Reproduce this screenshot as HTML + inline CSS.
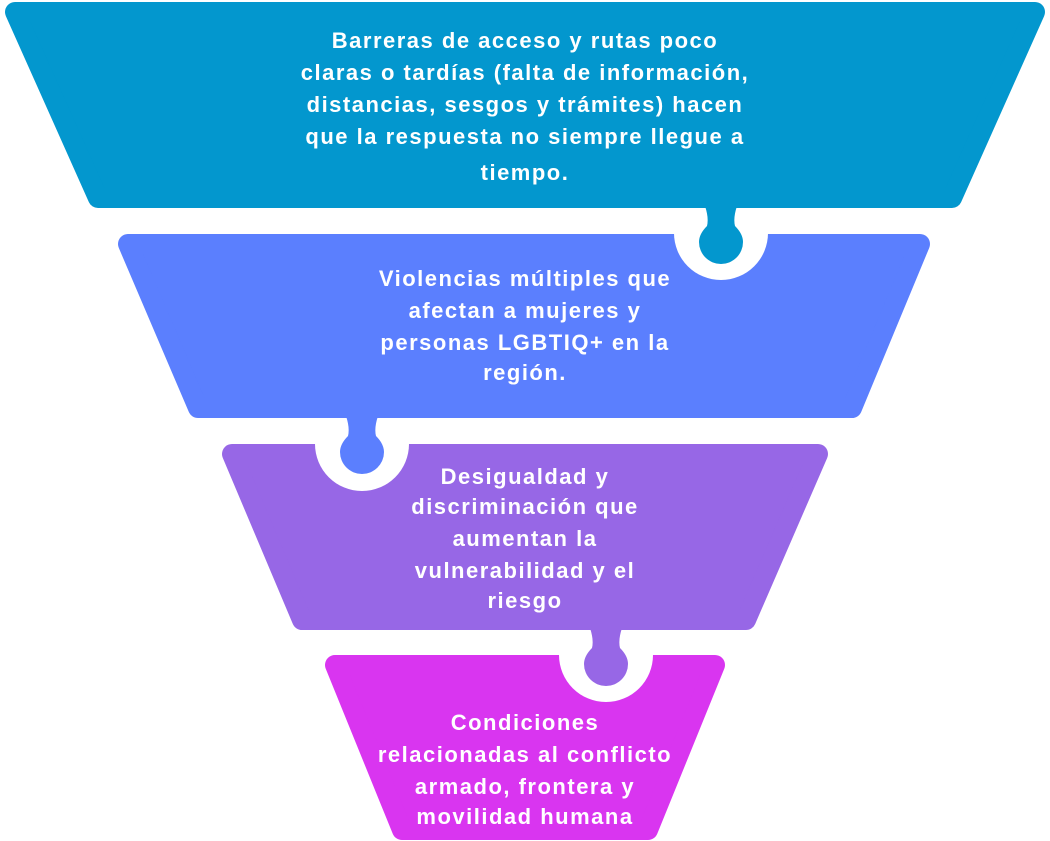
<!DOCTYPE html>
<html><head><meta charset="utf-8"><style>
html,body{margin:0;padding:0;background:#fff;}
svg{display:block}
text{font-family:"Liberation Sans",sans-serif;font-weight:bold;font-size:22px;letter-spacing:1.5px;fill:#fff;text-anchor:middle}
</style></head><body>
<svg width="1050" height="841" viewBox="0 0 1050 841">
<polygon points="335,665 715,665 648,830 402,830" fill="#D935F0" stroke="#D935F0" stroke-width="20" stroke-linejoin="round"/>
<circle cx="606" cy="655" r="47" fill="#fff"/>
<polygon points="232,454 818,454 746,620 302,620" fill="#9767E6" stroke="#9767E6" stroke-width="20" stroke-linejoin="round"/>
<path d="M590,628 Q594,640 592,648 Q584,656 584,664 A22,22 0 1 0 628,664 Q628,656 620,648 Q618,640 622,628 Z" fill="#9767E6"/>
<circle cx="362" cy="444" r="47" fill="#fff"/>
<polygon points="128,244 920,244 852,408 198,408" fill="#5B7FFE" stroke="#5B7FFE" stroke-width="20" stroke-linejoin="round"/>
<path d="M346,416 Q350,428 348,436 Q340,444 340,452 A22,22 0 1 0 384,452 Q384,444 376,436 Q374,428 378,416 Z" fill="#5B7FFE"/>
<circle cx="721" cy="233" r="47" fill="#fff"/>
<polygon points="15,12 1035,12 952,198 98,198" fill="#0397CE" stroke="#0397CE" stroke-width="20" stroke-linejoin="round"/>
<path d="M705,206 Q709,218 707,226 Q699,234 699,242 A22,22 0 1 0 743,242 Q743,234 735,226 Q733,218 737,206 Z" fill="#0397CE"/>
<text x="525" y="48">Barreras de acceso y rutas poco</text>
<text x="525" y="80">claras o tardías (falta de información,</text>
<text x="525" y="112">distancias, sesgos y trámites) hacen</text>
<text x="525" y="144">que la respuesta no siempre llegue a</text>
<text x="525" y="180">tiempo.</text>
<text x="525" y="286">Violencias múltiples que</text>
<text x="525" y="318">afectan a mujeres y</text>
<text x="525" y="350">personas LGBTIQ+ en la</text>
<text x="525" y="380">región.</text>
<text x="525" y="484">Desigualdad y</text>
<text x="525" y="514">discriminación que</text>
<text x="525" y="546">aumentan la</text>
<text x="525" y="578">vulnerabilidad y el</text>
<text x="525" y="608">riesgo</text>
<text x="525" y="730">Condiciones</text>
<text x="525" y="762">relacionadas al conflicto</text>
<text x="525" y="794">armado, frontera y</text>
<text x="525" y="824">movilidad humana</text>
</svg>
</body></html>
